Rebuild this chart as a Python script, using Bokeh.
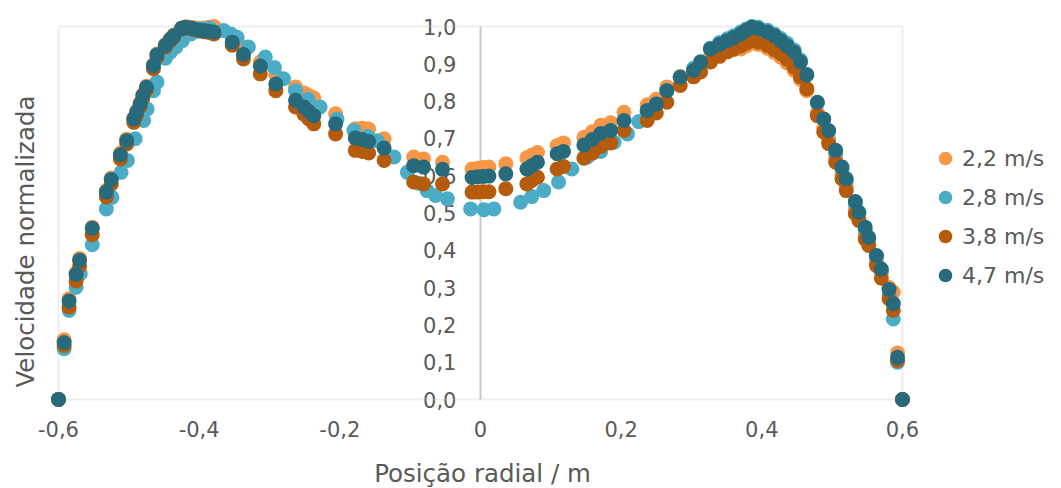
import math
from bokeh.plotting import figure
from bokeh.models import FixedTicker, Legend, LegendItem, Range1d, BoxAnnotation, Label
from bokeh.embed import file_html
from bokeh.resources import INLINE

# ---------------- data ----------------
series_labels = ["2,2 m/s", "2,8 m/s", "3,8 m/s", "4,7 m/s"]

posicao = [
    -0.600, -0.592, -0.585, -0.575, -0.570, -0.552, -0.532, -0.525,
    -0.512, -0.503, -0.493, -0.489, -0.484, -0.480, -0.475, -0.465,
    -0.460, -0.448, -0.441, -0.436, -0.425, -0.419, -0.413, -0.408,
    -0.400, -0.393, -0.386, -0.379, -0.353, -0.337, -0.313, -0.291,
    -0.263, -0.251, -0.244, -0.237, -0.206, -0.178, -0.168, -0.159,
    -0.137, -0.095, -0.081, -0.054, -0.012, -0.004, 0.004, 0.012,
    0.036, 0.066, 0.073, 0.081, 0.109, 0.118, 0.147, 0.159,
    0.171, 0.185, 0.204, 0.237, 0.250, 0.265, 0.284, 0.303,
    0.313, 0.327, 0.340, 0.351, 0.360, 0.370, 0.378, 0.386,
    0.395, 0.408, 0.418, 0.427, 0.436, 0.446, 0.455, 0.464,
    0.479, 0.488, 0.495, 0.505, 0.514, 0.520, 0.533, 0.538,
    0.547, 0.552, 0.563, 0.570, 0.581, 0.587, 0.593, 0.600,
]

vel_22 = [
    0.0, 0.160, 0.270, 0.340, 0.378, 0.462, 0.560, 0.594,
    0.660, 0.698, 0.755, 0.773, 0.795, 0.818, 0.840, 0.897,
    0.926, 0.952, 0.967, 0.977, 0.996, 0.999, 0.998, 0.997,
    0.995, 0.996, 0.998, 1.0, 0.975, 0.945, 0.905, 0.870,
    0.838, 0.822, 0.815, 0.808, 0.766, 0.726, 0.727, 0.725,
    0.699, 0.650, 0.645, 0.636, 0.618, 0.620, 0.622, 0.623,
    0.632, 0.648, 0.655, 0.662, 0.681, 0.688, 0.703, 0.718,
    0.735, 0.742, 0.770, 0.790, 0.805, 0.838, 0.866, 0.880,
    0.895, 0.920, 0.930, 0.935, 0.938, 0.940, 0.948, 0.955,
    0.952, 0.942, 0.930, 0.918, 0.902, 0.882, 0.858, 0.828,
    0.770, 0.728, 0.698, 0.648, 0.605, 0.572, 0.510, 0.490,
    0.442, 0.425, 0.370, 0.340, 0.300, 0.288, 0.125, 0.0,
]

vel_38 = [
    0.0, 0.145, 0.248, 0.318, 0.358, 0.442, 0.543, 0.578,
    0.645, 0.685, 0.743, 0.762, 0.785, 0.808, 0.830, 0.887,
    0.918, 0.945, 0.962, 0.972, 0.993, 0.997, 0.995, 0.992,
    0.988, 0.986, 0.984, 0.980, 0.950, 0.913, 0.873, 0.828,
    0.784, 0.765, 0.752, 0.739, 0.712, 0.668, 0.665, 0.661,
    0.641, 0.583, 0.578, 0.578, 0.556, 0.556, 0.557, 0.557,
    0.565, 0.578, 0.587, 0.596, 0.618, 0.625, 0.647, 0.660,
    0.678, 0.688, 0.721, 0.748, 0.768, 0.797, 0.842, 0.865,
    0.878, 0.905, 0.920, 0.932, 0.940, 0.948, 0.955, 0.962,
    0.958, 0.949, 0.938, 0.927, 0.912, 0.891, 0.865, 0.833,
    0.761, 0.717, 0.686, 0.636, 0.592, 0.560, 0.498, 0.480,
    0.430, 0.413, 0.359, 0.325, 0.270, 0.239, 0.105, 0.0,
]

vel_47 = [
    0.0, 0.153, 0.264, 0.335, 0.373, 0.459, 0.556, 0.590,
    0.656, 0.694, 0.752, 0.770, 0.792, 0.815, 0.837, 0.895,
    0.924, 0.949, 0.965, 0.975, 0.995, 0.998, 0.996, 0.994,
    0.990, 0.989, 0.987, 0.985, 0.958, 0.925, 0.894, 0.846,
    0.802, 0.784, 0.772, 0.761, 0.739, 0.701, 0.697, 0.692,
    0.674, 0.627, 0.623, 0.617, 0.595, 0.597, 0.598, 0.599,
    0.605, 0.618, 0.627, 0.636, 0.659, 0.665, 0.682, 0.697,
    0.713, 0.721, 0.748, 0.775, 0.792, 0.828, 0.864, 0.882,
    0.904, 0.940, 0.952, 0.962, 0.970, 0.980, 0.990, 0.998,
    0.994, 0.985, 0.975, 0.962, 0.948, 0.931, 0.905, 0.870,
    0.797, 0.752, 0.721, 0.668, 0.623, 0.592, 0.531, 0.502,
    0.462, 0.435, 0.386, 0.350, 0.295, 0.257, 0.113, 0.0,
]

posicao_28 = [
    -0.600, -0.592, -0.585, -0.575, -0.569, -0.552, -0.532, -0.524,
    -0.511, -0.502, -0.491, -0.479, -0.474, -0.465, -0.460, -0.448,
    -0.441, -0.433, -0.424, -0.412, -0.398, -0.385, -0.365, -0.355,
    -0.346, -0.330, -0.306, -0.293, -0.280, -0.263, -0.245, -0.228,
    -0.204, -0.180, -0.160, -0.147, -0.123, -0.104, -0.088, -0.076,
    -0.064, -0.047, -0.014, 0.005, 0.019, 0.057, 0.073, 0.090,
    0.111, 0.130, 0.152, 0.171, 0.190, 0.209, 0.225, 0.237,
    0.250, 0.265, 0.284, 0.303, 0.313, 0.327, 0.340, 0.351,
    0.360, 0.370, 0.378, 0.386, 0.395, 0.408, 0.418, 0.427,
    0.436, 0.446, 0.455, 0.464, 0.479, 0.488, 0.495, 0.505,
    0.514, 0.520, 0.533, 0.538, 0.547, 0.552, 0.563, 0.570,
    0.581, 0.587, 0.593, 0.600,
]

vel_28 = [
    0.0, 0.136, 0.239, 0.301, 0.337, 0.415, 0.511, 0.542,
    0.609, 0.641, 0.699, 0.748, 0.779, 0.828, 0.851, 0.915,
    0.931, 0.945, 0.962, 0.980, 0.994, 0.995, 0.989, 0.980,
    0.971, 0.945, 0.918, 0.890, 0.860, 0.828, 0.805, 0.784,
    0.752, 0.721, 0.705, 0.694, 0.650, 0.609, 0.580, 0.560,
    0.547, 0.538, 0.511, 0.509, 0.511, 0.529, 0.544, 0.560,
    0.583, 0.618, 0.650, 0.665, 0.690, 0.712, 0.745, 0.770,
    0.792, 0.828, 0.864, 0.888, 0.906, 0.942, 0.957, 0.967,
    0.975, 0.985, 0.993, 1.0, 0.998, 0.990, 0.980, 0.968,
    0.955, 0.937, 0.910, 0.872, 0.795, 0.752, 0.718, 0.660,
    0.618, 0.585, 0.525, 0.500, 0.455, 0.432, 0.383, 0.345,
    0.280, 0.216, 0.100, 0.0,
]

x_ticks = [-0.6, -0.4, -0.2, 0, 0.2, 0.4, 0.6]
x_tick_labels = ["-0,6", "-0,4", "-0,2", "0", "0,2", "0,4", "0,6"]
y_ticks = [0.0, 0.1, 0.2, 0.3, 0.4, 0.5, 0.6, 0.7, 0.8, 0.9, 1.0]
y_tick_labels = ["0,0", "0,1", "0,2", "0,3", "0,4", "0,5", "0,6", "0,7", "0,8", "0,9", "1,0"]

x_title = "Posição radial / m"
y_title = "Velocidade normalizada"

# ---------------- style / layout ----------------
FONT = "DejaVu Sans"
TXT = "#595959"
LINE = "#C8C8C8"
colors = ["#F79646", "#4BACC6", "#B65A0C", "#266A7B"]

W, H = 1061, 488
PX_PER_X, PX_PER_Y = 703.3, 373.0   # plot-box scale
BOX_LEFT_PX, BOX_TOP_PX = 58, 26     # plot-box position on the page
x_start = x_ticks[0] - BOX_LEFT_PX / PX_PER_X
x_end = x_start + W / PX_PER_X
y_end = y_ticks[-1] + BOX_TOP_PX / PX_PER_Y
y_start = y_end - H / PX_PER_Y

p = figure(frame_width=W, frame_height=H, output_backend="svg", toolbar_location=None,
           x_range=Range1d(x_start, x_end), y_range=Range1d(y_start, y_end),
           min_border_left=0, min_border_right=0, min_border_top=0, min_border_bottom=0)
p.xgrid.visible = False
p.ygrid.visible = False
p.outline_line_color = None
p.background_fill_color = "white"
p.border_fill_color = "white"

box = BoxAnnotation(left=x_ticks[0], right=x_ticks[-1], bottom=y_ticks[0], top=y_ticks[-1],
                    fill_color=None, fill_alpha=0, line_color=LINE, line_width=2, level="underlay")
p.add_layout(box)

# x axis at y = 0
xa = p.xaxis[0]
xa.fixed_location = 0
xa.bounds = (x_ticks[0], x_ticks[-1])
xa.ticker = FixedTicker(ticks=x_ticks)
xa.major_label_overrides = {t: l for t, l in zip(x_ticks, x_tick_labels)}
xa.axis_line_color = None
xa.major_tick_out = 0
xa.major_tick_in = 0
xa.minor_tick_out = 0
xa.minor_tick_in = 0
xa.major_label_standoff = 21
xa.major_label_text_font = FONT
xa.major_label_text_font_size = "21px"
xa.major_label_text_color = TXT

# y axis at x = 0
ya = p.yaxis[0]
ya.fixed_location = 0
ya.bounds = (y_ticks[0], y_ticks[-1])
ya.ticker = FixedTicker(ticks=y_ticks)
ya.major_label_overrides = {t: l for t, l in zip(y_ticks, y_tick_labels)}
ya.axis_line_color = LINE
ya.axis_line_width = 2
ya.major_tick_out = 0
ya.major_tick_in = 0
ya.minor_tick_out = 0
ya.minor_tick_in = 0
ya.major_label_standoff = 24
ya.major_label_text_font = FONT
ya.major_label_text_font_size = "21px"
ya.major_label_text_color = TXT
ya.level = "underlay"

# axis titles (screen pixels, measured from the bottom-left corner)
xt = Label(x=482, y=H - 473, x_units="screen", y_units="screen", text=x_title,
           text_align="center", text_baseline="middle", text_font=FONT,
           text_font_size="24.5px", text_color=TXT)
p.add_layout(xt)
yt = Label(x=25, y=H - 241, x_units="screen", y_units="screen", text=y_title,
           angle=math.pi / 2, text_align="center", text_baseline="middle", text_font=FONT,
           text_font_size="24.5px", text_color=TXT)
p.add_layout(yt)

xs_list = [posicao, posicao_28, posicao, posicao]
ys_list = [vel_22, vel_28, vel_38, vel_47]
renderers = []
for xs, ys, c in zip(xs_list, ys_list, colors):
    r = p.scatter(xs, ys, size=15, fill_color=c, line_color=None, marker="circle")
    renderers.append(r)

legend = Legend(items=[LegendItem(label=l, renderers=[r]) for l, r in zip(series_labels, renderers)],
                location=(928, H - 292), orientation="vertical")
legend.glyph_width = 34
legend.glyph_height = 34
legend.label_height = 34
legend.label_standoff = 0
legend.spacing = 5
legend.padding = 0
legend.margin = 0
legend.border_line_color = None
legend.background_fill_alpha = 0
legend.label_text_font = FONT
legend.label_text_font_size = "22px"
legend.label_text_color = TXT
p.add_layout(legend)

open("out.html", "w").write(file_html(p, INLINE))
